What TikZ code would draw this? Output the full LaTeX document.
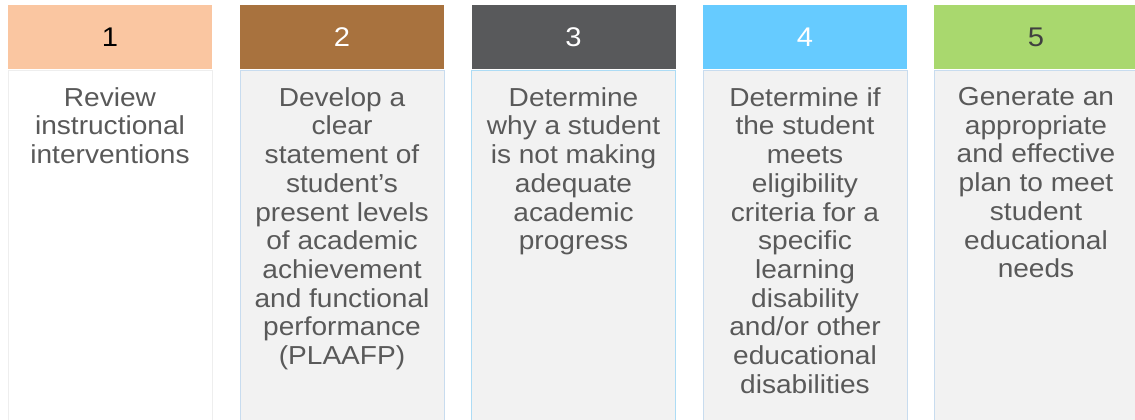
\documentclass[tikz,border=0pt]{standalone}
\usepackage{fontspec}
\setmainfont{Liberation Sans}[FakeStretch=1.08]
\usetikzlibrary{positioning}

\definecolor{peach}{HTML}{FAC6A1}
\definecolor{bronze}{HTML}{A8723E}
\definecolor{slate}{HTML}{58595B}
\definecolor{sky}{HTML}{66CBFF}
\definecolor{lime}{HTML}{A9D86E}
\definecolor{boxgray}{HTML}{F2F2F2}
\definecolor{textgray}{HTML}{595959}
\definecolor{numgray}{HTML}{404040}
\definecolor{edgeblue}{HTML}{C8DCEF}
\definecolor{edgesky}{HTML}{ADDCF5}
\definecolor{edgewhite}{HTML}{EEEEEE}

\tikzset{
  headbox/.style={minimum width=204pt, minimum height=64pt, inner sep=0pt,
    font=\fontsize{27}{30}\selectfont},
  bodybox/.style={minimum width=204pt, minimum height=361pt, inner sep=0pt,
    anchor=north, fill=boxgray, draw=#1, line width=0.8pt},
  steptext/.style={anchor=north, align=center, inner sep=0pt, text=textgray,
    font=\fontsize{26}{28.7}\selectfont}
}

\begin{document}
\begin{tikzpicture}[x=1pt,y=-1pt]
  \path[use as bounding box, clip] (0,0) rectangle (1135,420);

  % column heads
  \foreach \i/\xc/\col/\num in {1/110/peach/black, 2/342/bronze/white,
      3/573.5/slate/white, 4/805/sky/white, 5/1036/lime/numgray}
    \node[headbox, fill=\col, text=\num] (hd\i) at (\xc,37.5) {\i};

  % column bodies
  \node[bodybox=edgewhite, fill=white] (bd1) at (hd1.south) {};
  \node[bodybox=edgeblue] (bd2) at (hd2.south) {};
  \node[bodybox=edgesky] (bd3) at (hd3.south) {};
  \node[bodybox=edgeblue] (bd4) at (hd4.south) {};
  \node[bodybox=edgeblue] (bd5) at (hd5.south) {};

  % step texts
  \node[steptext] (tx1) at ([yshift=-17.5pt]bd1.north)
    {Review\\instructional\\interventions};
  \node[steptext] (tx2) at ([yshift=-17.5pt]bd2.north)
    {Develop a\\clear\\statement of\\student’s\\present levels\\of academic\\achievement\\and functional\\performance\\(PLAAFP)};
  \node[steptext] (tx3) at ([yshift=-17.5pt]bd3.north)
    {Determine\\why a student\\is not making\\adequate\\academic\\progress};
  \node[steptext] (tx4) at ([yshift=-17.5pt]bd4.north)
    {Determine if\\the student\\meets\\eligibility\\criteria for a\\specific\\learning\\disability\\and/or other\\educational\\disabilities};
  \node[steptext] (tx5) at ([yshift=-17.5pt]bd5.north)
    {Generate an\\appropriate\\and effective\\plan to meet\\student\\educational\\needs};
\end{tikzpicture}
\end{document}
